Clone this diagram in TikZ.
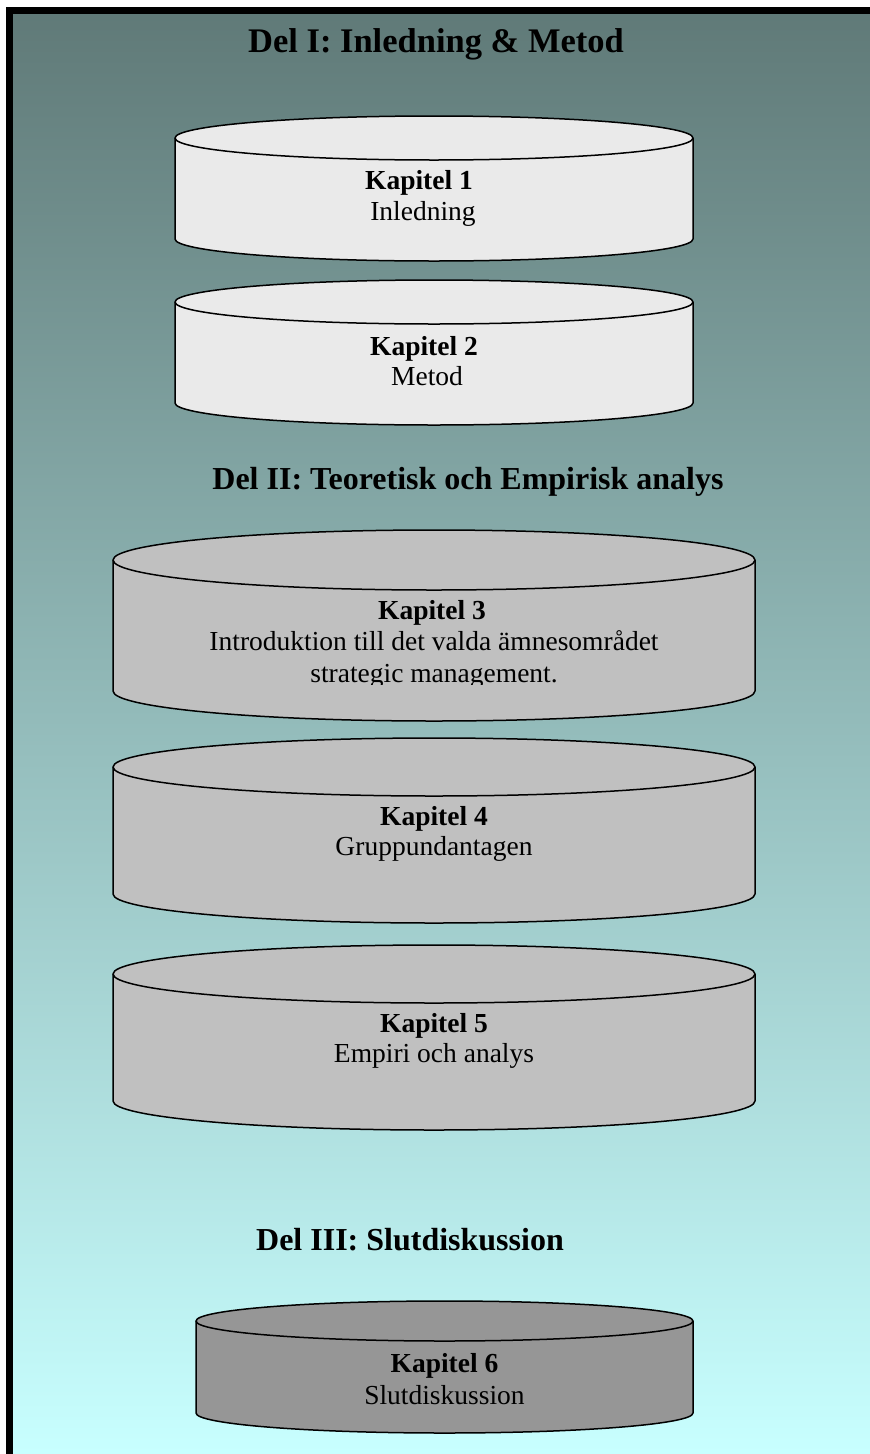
\documentclass[tikz,border=0pt]{standalone}
\usepackage{fontspec}
\setmainfont{Liberation Serif}
\usepackage{tikz}
\usepackage{xcolor}
\definecolor{bgtop}{RGB}{96,122,120}
\definecolor{bgbottom}{RGB}{200,255,255}
\definecolor{kapljus}{RGB}{234,234,234}
\definecolor{kapmellan}{RGB}{192,192,192}
\definecolor{kapmork}{RGB}{150,150,150}
\tikzset{
  delrubrik/.style={font=\fontsize{32}{38}\selectfont\bfseries, inner sep=0pt, anchor=base},
  kaprubrik/.style={font=\fontsize{27.5}{31}\selectfont\bfseries, inner sep=0pt, anchor=base},
  kaptext/.style={font=\fontsize{27.5}{31}\selectfont, inner sep=0pt, anchor=base},
  cylbody/.style={draw=black, line width=1.5pt, line join=round},
}

\begin{document}
\begin{tikzpicture}[x=1pt, y=1pt]
  \useasboundingbox (0, 0) rectangle (870, -1454);
  \clip (0, 0) rectangle (870, -1454);
  % background and frame
  \shade[top color=bgtop, bottom color=bgbottom] (13, -14) rectangle (870, -1454);
  \draw[line width=7pt] (9.5, -1470) -- (9.5, -10.5) -- (890, -10.5);
  % part headings
  \node[delrubrik, font=\fontsize{34.5}{40}\selectfont\bfseries] (del1) at (436, -52) {Del I: Inledning \& Metod};
  \node[delrubrik] (del2) at (468, -489) {Del II: Teoretisk och Empirisk analys};
  \node[delrubrik] (del3) at (410, -1250) {Del III: Slutdiskussion};
  % Part I
  \begin{scope}[shift={(434, -138)}]
    \filldraw[cylbody, fill=kapljus] (-259, 0) -- (-259, -101)
      arc[start angle=180, end angle=360, x radius=259, y radius=22]
      -- (259, 0) arc[start angle=0, end angle=180, x radius=259, y radius=22] -- cycle;
    \draw[cylbody] (-259, 0) arc[start angle=180, end angle=360, x radius=259, y radius=22];
    \node[kaprubrik] (kap1) at (-15, -51) {Kapitel 1};
    \node[kaptext] (kap1text) at (-11, -82) {Inledning};
  \end{scope}
  \begin{scope}[shift={(434, -302)}]
    \filldraw[cylbody, fill=kapljus] (-259, 0) -- (-259, -101)
      arc[start angle=180, end angle=360, x radius=259, y radius=22]
      -- (259, 0) arc[start angle=0, end angle=180, x radius=259, y radius=22] -- cycle;
    \draw[cylbody] (-259, 0) arc[start angle=180, end angle=360, x radius=259, y radius=22];
    \node[kaprubrik] (kap2) at (-10, -53) {Kapitel 2};
    \node[kaptext] (kap2text) at (-7, -83) {Metod};
  \end{scope}
  % Part II
  \begin{scope}[shift={(434, -560)}]
    \filldraw[cylbody, fill=kapmellan] (-321, 0) -- (-321, -131)
      arc[start angle=180, end angle=360, x radius=321, y radius=30]
      -- (321, 0) arc[start angle=0, end angle=180, x radius=321, y radius=30] -- cycle;
    \draw[cylbody] (-321, 0) arc[start angle=180, end angle=360, x radius=321, y radius=30];
    \node[kaprubrik] (kap3) at (-2, -59) {Kapitel 3};
    \begin{scope}
      \clip (-300, -30) rectangle (300, -124.5);
      \node[kaptext] (kap3text) at (0, -90) {Introduktion till det valda ämnesområdet};
      \node[kaptext] (kap3more) at (0, -122) {strategic management.};
    \end{scope}
  \end{scope}
  \begin{scope}[shift={(434, -767)}]
    \filldraw[cylbody, fill=kapmellan] (-321, 0) -- (-321, -127)
      arc[start angle=180, end angle=360, x radius=321, y radius=29]
      -- (321, 0) arc[start angle=0, end angle=180, x radius=321, y radius=29] -- cycle;
    \draw[cylbody] (-321, 0) arc[start angle=180, end angle=360, x radius=321, y radius=29];
    \node[kaprubrik] (kap4) at (0, -58) {Kapitel 4};
    \node[kaptext] (kap4text) at (0, -88) {Gruppundantagen};
  \end{scope}
  \begin{scope}[shift={(434, -974)}]
    \filldraw[cylbody, fill=kapmellan] (-321, 0) -- (-321, -127)
      arc[start angle=180, end angle=360, x radius=321, y radius=29]
      -- (321, 0) arc[start angle=0, end angle=180, x radius=321, y radius=29] -- cycle;
    \draw[cylbody] (-321, 0) arc[start angle=180, end angle=360, x radius=321, y radius=29];
    \node[kaprubrik] (kap5) at (0, -58) {Kapitel 5};
    \node[kaptext] (kap5text) at (0, -88) {Empiri och analys};
  \end{scope}
  % Part III
  \begin{scope}[shift={(444.5, -1321)}]
    \filldraw[cylbody, fill=kapmork] (-248.5, 0) -- (-248.5, -92)
      arc[start angle=180, end angle=360, x radius=248.5, y radius=20]
      -- (248.5, 0) arc[start angle=0, end angle=180, x radius=248.5, y radius=20] -- cycle;
    \draw[cylbody] (-248.5, 0) arc[start angle=180, end angle=360, x radius=248.5, y radius=20];
    \node[kaprubrik] (kap6) at (0, -51) {Kapitel 6};
    \node[kaptext] (kap6text) at (0, -83) {Slutdiskussion};
  \end{scope}
\end{tikzpicture}
\end{document}
